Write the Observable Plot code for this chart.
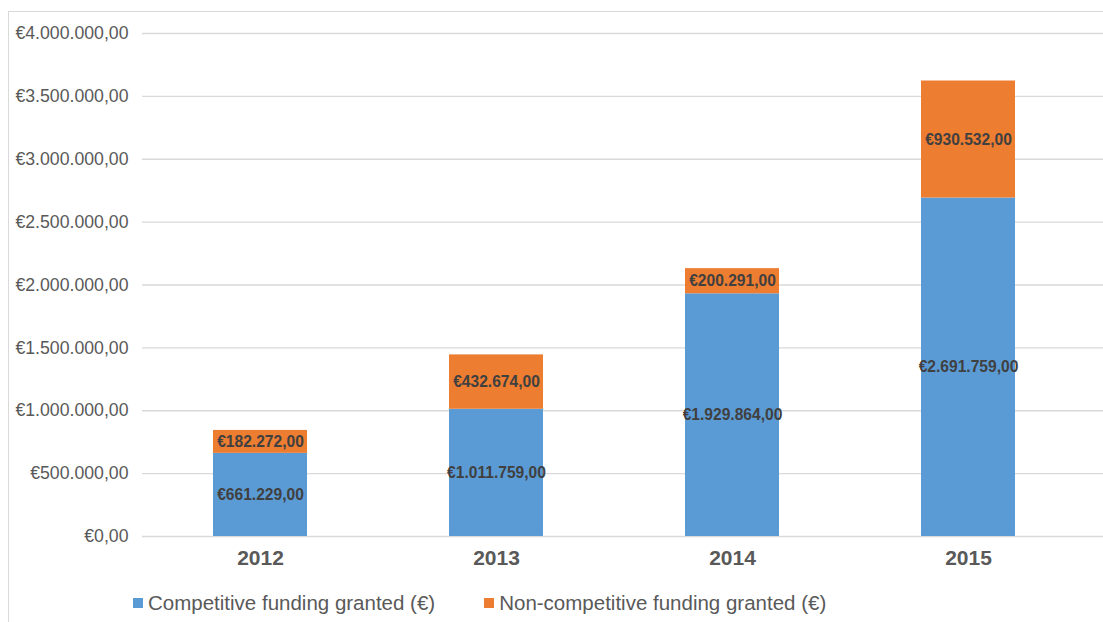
<!DOCTYPE html>
<html>
<head>
<meta charset="utf-8">
<script src="https://cdn.jsdelivr.net/npm/d3@7"></script>
<script src="https://cdn.jsdelivr.net/npm/@observablehq/plot@0.6"></script>
<style>
  html, body { margin: 0; padding: 0; background: #fff; width: 1103px; height: 622px; overflow: hidden; }
  #frame { position: absolute; left: 8px; top: 11px; width: 1200px; height: 700px;
           border-left: 1px solid #d9d9d9; border-top: 1px solid #d9d9d9; }
  #legend { position: absolute; left: 133px; top: 583px; height: 40px; display: flex; align-items: center;
            font-family: "Liberation Sans", Arial, sans-serif; font-size: 20.5px; color: #595959; }
  .item { display: flex; align-items: center; }
  .sw { width: 10px; height: 10px; margin-right: 5px; }
</style>
</head>
<body>
<div id="frame"><div id="chart"></div></div>
<div id="legend"></div>
<script>
const years = ["2012", "2013", "2014", "2015"];
const competitive = [661229, 1011759, 1929864, 2691759];
const nonCompetitive = [182272, 432674, 200291, 930532];
const seriesNames = ["Competitive funding granted (€)", "Non-competitive funding granted (€)"];
const seriesColors = ["#5B9BD5", "#ED7D31"];
const yTicks = [0, 500000, 1000000, 1500000, 2000000, 2500000, 3000000, 3500000, 4000000];

const locale = d3.formatLocale({decimal: ",", thousands: ".", grouping: [3], currency: ["€", ""]});
const fmt = locale.format("$,.2f");

const data = [];
years.forEach((y, i) => {
  data.push({year: y, series: seriesNames[0], value: competitive[i]});
  data.push({year: y, series: seriesNames[1], value: nonCompetitive[i]});
});

const chart = Plot.plot({
  width: 1094,
  height: 570,
  marginLeft: 133,
  marginRight: 0,
  marginTop: 21,
  marginBottom: 46,
  style: {fontFamily: "'Liberation Sans', Arial, sans-serif", background: "#fff"},
  x: {domain: years, paddingInner: 0.6, paddingOuter: 0.3, insetRight: 16, label: null},
  y: {domain: [0, 4000000], label: null},
  color: {domain: seriesNames, range: seriesColors},
  marks: [
    Plot.gridY(yTicks, {stroke: "#d9d9d9", strokeOpacity: 1, strokeWidth: 1.3}),
    Plot.axisY(yTicks, {tickSize: 0, tickPadding: 14, tickFormat: fmt, fontSize: 17.7, fill: "#595959", label: null}),
    Plot.axisX({tickSize: 0, tickPadding: 14, fontSize: 21, fontWeight: "bold", fill: "#595959", label: null}),
    Plot.barY(data, {x: "year", y: "value", fill: "series", order: seriesNames}),
    Plot.text(data, Plot.stackY({x: "year", y: "value", z: "series", order: seriesNames, text: d => fmt(d.value),
      fill: "#404040", fontSize: 15.6, fontWeight: "bold"}))
  ]
});
document.getElementById("chart").appendChild(chart);

const legend = document.getElementById("legend");
seriesNames.forEach((name, i) => {
  const item = document.createElement("div");
  item.className = "item";
  if (i > 0) item.style.marginLeft = "49px";
  const sw = document.createElement("div");
  sw.className = "sw";
  sw.style.background = seriesColors[i];
  const label = document.createElement("span");
  label.textContent = name;
  item.appendChild(sw);
  item.appendChild(label);
  legend.appendChild(item);
});
</script>
</body>
</html>
